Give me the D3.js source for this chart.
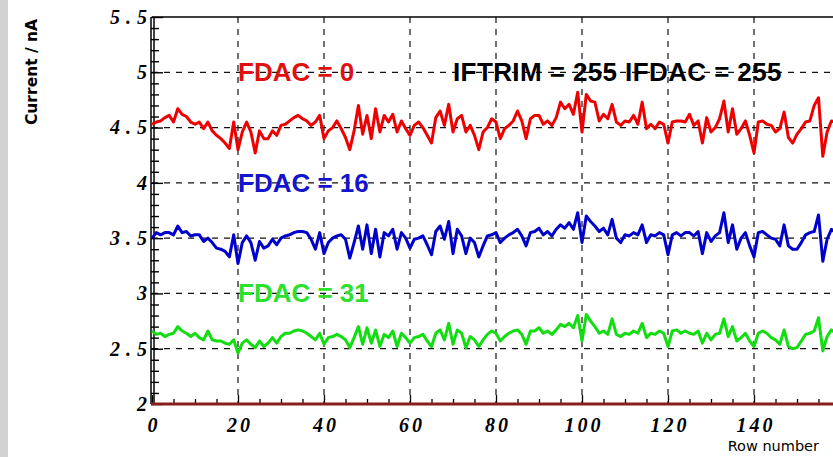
<!DOCTYPE html>
<html>
<head>
<meta charset="utf-8">
<script src="https://cdn.jsdelivr.net/npm/d3@7"></script>
<style>
  body { margin: 0; background: #fff; }
  svg { display: block; }
</style>
</head>
<body>
<div id="chart"></div>
<script>
// current per row (rows 0..159)
const fdac0 = [
  4.53,4.55,4.56,4.59,4.61,4.55,4.67,4.62,4.60,4.55,4.53,4.55,4.49,4.55,4.47,4.43,4.40,4.36,4.31,4.55,
  4.30,4.46,4.55,4.46,4.27,4.47,4.40,4.40,4.47,4.43,4.52,4.53,4.56,4.59,4.61,4.58,4.56,4.52,4.55,4.61,
  4.40,4.47,4.50,4.56,4.49,4.41,4.30,4.47,4.70,4.44,4.61,4.40,4.67,4.46,4.61,4.55,4.62,4.46,4.56,4.49,
  4.43,4.52,4.55,4.50,4.43,4.36,4.59,4.65,4.52,4.71,4.46,4.58,4.61,4.46,4.52,4.43,4.30,4.46,4.50,4.58,
  4.55,4.40,4.49,4.52,4.56,4.65,4.56,4.40,4.58,4.61,4.61,4.53,4.56,4.52,4.59,4.73,4.67,4.71,4.62,4.82,
  4.46,4.80,4.74,4.73,4.56,4.62,4.58,4.71,4.55,4.52,4.56,4.55,4.61,4.53,4.73,4.49,4.53,4.49,4.55,4.53,
  4.36,4.55,4.56,4.56,4.55,4.62,4.52,4.56,4.36,4.59,4.46,4.50,4.58,4.74,4.46,4.67,4.44,4.49,4.56,4.43,
  4.27,4.55,4.56,4.53,4.52,4.46,4.49,4.64,4.41,4.36,4.44,4.49,4.55,4.56,4.70,4.77,4.24,4.46,4.56,4.55
];
const fdac16 = [
  3.50,3.55,3.53,3.55,3.55,3.53,3.61,3.55,3.56,3.52,3.53,3.53,3.47,3.50,3.46,3.41,3.40,3.38,3.33,3.53,
  3.27,3.46,3.52,3.46,3.30,3.47,3.41,3.43,3.49,3.44,3.50,3.52,3.53,3.55,3.56,3.56,3.55,3.49,3.40,3.55,
  3.36,3.46,3.50,3.52,3.53,3.49,3.32,3.46,3.61,3.40,3.62,3.36,3.58,3.33,3.55,3.52,3.58,3.40,3.55,3.50,
  3.41,3.49,3.50,3.52,3.44,3.35,3.56,3.61,3.49,3.65,3.36,3.58,3.52,3.36,3.50,3.46,3.33,3.43,3.52,3.53,
  3.55,3.46,3.50,3.53,3.55,3.58,3.52,3.43,3.55,3.56,3.59,3.53,3.56,3.52,3.58,3.62,3.59,3.64,3.58,3.73,
  3.46,3.70,3.65,3.61,3.56,3.59,3.53,3.67,3.50,3.46,3.53,3.52,3.55,3.53,3.62,3.46,3.53,3.52,3.55,3.53,
  3.35,3.53,3.55,3.52,3.55,3.55,3.52,3.56,3.36,3.55,3.47,3.52,3.55,3.73,3.46,3.62,3.40,3.50,3.55,3.43,
  3.33,3.55,3.56,3.53,3.50,3.49,3.43,3.62,3.43,3.40,3.40,3.46,3.53,3.55,3.56,3.71,3.29,3.49,3.58,3.55
];
const fdac31 = [
  2.66,2.63,2.64,2.61,2.63,2.64,2.70,2.66,2.64,2.61,2.64,2.60,2.58,2.66,2.58,2.57,2.57,2.55,2.54,2.58,
  2.46,2.55,2.58,2.54,2.51,2.57,2.52,2.55,2.60,2.55,2.61,2.64,2.64,2.66,2.67,2.66,2.64,2.61,2.58,2.64,
  2.54,2.60,2.61,2.63,2.61,2.58,2.51,2.60,2.70,2.54,2.69,2.55,2.67,2.52,2.63,2.60,2.66,2.52,2.64,2.60,
  2.55,2.60,2.61,2.63,2.57,2.52,2.64,2.67,2.58,2.73,2.54,2.67,2.64,2.51,2.61,2.58,2.52,2.58,2.63,2.66,
  2.64,2.57,2.61,2.64,2.66,2.67,2.63,2.54,2.66,2.66,2.69,2.64,2.66,2.63,2.67,2.72,2.70,2.73,2.69,2.80,
  2.57,2.81,2.75,2.70,2.64,2.66,2.63,2.77,2.63,2.61,2.64,2.63,2.66,2.64,2.73,2.60,2.64,2.63,2.66,2.64,
  2.52,2.66,2.67,2.64,2.66,2.64,2.63,2.66,2.55,2.64,2.58,2.63,2.64,2.77,2.61,2.70,2.57,2.60,2.64,2.57,
  2.52,2.64,2.66,2.64,2.60,2.58,2.54,2.67,2.52,2.50,2.51,2.57,2.63,2.64,2.66,2.78,2.48,2.61,2.67,2.64
];
const yMajor = [2, 2.5, 3, 3.5, 4, 4.5, 5, 5.5];
const xMajor = [0, 20, 40, 60, 80, 100, 120, 140];
const seriesNames = ['FDAC = 0', 'FDAC = 16', 'FDAC = 31'];
const setting = 'IFTRIM = 255 IFDAC = 255';

const width = 833, height = 457;
const x = d3.scaleLinear().domain([0, 160]).range([152, 840]);
const y = d3.scaleLinear().domain([2, 5.5]).range([404, 17]);

const svg = d3.select('#chart').append('svg')
  .attr('width', width).attr('height', height);

// grey strip on the left edge
svg.append('rect').attr('x', 0).attr('y', 0).attr('width', 8).attr('height', height).attr('fill', '#d2d2d2');

// dashed grid
svg.append('g').selectAll('line')
  .data(yMajor.slice(1, -1))
  .join('line')
    .attr('x1', x(0)).attr('x2', width)
    .attr('y1', d => y(d)).attr('y2', d => y(d))
    .attr('stroke', '#111').attr('stroke-width', 1.2).attr('stroke-dasharray', '6,6');
svg.append('g').selectAll('line')
  .data(xMajor.slice(1))
  .join('line')
    .attr('x1', d => x(d)).attr('x2', d => x(d))
    .attr('y1', y(5.5)).attr('y2', y(2))
    .attr('stroke', '#111').attr('stroke-width', 1.2).attr('stroke-dasharray', '6,6');

// frame top
svg.append('line').attr('x1', x(0)).attr('x2', width).attr('y1', y(5.5)).attr('y2', y(5.5))
  .attr('stroke', '#000').attr('stroke-width', 1.5);

// y axis: inward ticks, double line
const yMinor = d3.range(20, 56).map(v => v / 10).filter(v => !yMajor.includes(v));
svg.append('g').attr('transform', `translate(${x(0) - 1},0)`)
  .call(d3.axisRight(y).tickValues(yMinor).tickSize(8).tickFormat(''))
  .call(g => g.select('.domain').remove())
  .call(g => g.selectAll('line').attr('stroke-width', 1.4));
svg.append('g').attr('transform', `translate(${x(0) - 1},0)`)
  .call(d3.axisRight(y).tickValues(yMajor).tickSize(12).tickFormat(''))
  .call(g => g.select('.domain').remove())
  .call(g => g.selectAll('line').attr('stroke-width', 1.4));
[x(0) - 1, x(0) + 2].forEach(px => {
  svg.append('line').attr('x1', px).attr('x2', px).attr('y1', y(5.5)).attr('y2', y(2))
    .attr('stroke', '#000').attr('stroke-width', 1.5);
});
svg.append('g').attr('transform', `translate(${x(0) - 1},0)`)
  .call(d3.axisLeft(y).tickValues(yMajor).tickSize(0).tickPadding(-2).tickFormat(d3.format('')))
  .call(g => g.select('.domain').remove())
  .call(g => g.selectAll('text')
    .attr('font-family', '"Liberation Serif", serif').attr('font-weight', 'bold')
    .attr('font-style', 'italic').attr('font-size', 20).attr('letter-spacing', 6)
    .attr('fill', '#000'));

// x axis: upward ticks, maroon base line
const xMinor = d3.range(0, 161, 5).filter(v => v % 20 !== 0);
svg.append('g').attr('transform', `translate(0,${y(2)})`)
  .call(d3.axisTop(x).tickValues(xMinor).tickSize(5).tickFormat(''))
  .call(g => g.select('.domain').remove())
  .call(g => g.selectAll('line').attr('stroke-width', 1.3));
svg.append('g').attr('transform', `translate(0,${y(2)})`)
  .call(d3.axisTop(x).tickValues(xMajor).tickSize(9).tickFormat(''))
  .call(g => g.select('.domain').remove())
  .call(g => g.selectAll('line').attr('stroke-width', 1.3));
svg.append('line').attr('x1', x(0) - 1).attr('x2', width).attr('y1', y(2)).attr('y2', y(2))
  .attr('stroke', '#8b1c1c').attr('stroke-width', 3);
svg.append('g').attr('transform', `translate(0,${y(2)})`)
  .call(d3.axisBottom(x).tickValues(xMajor).tickSize(0).tickPadding(14).tickFormat(d3.format('')))
  .call(g => g.select('.domain').remove())
  .call(g => g.selectAll('text')
    .attr('font-family', '"Liberation Serif", serif').attr('font-weight', 'bold')
    .attr('font-style', 'italic').attr('font-size', 20).attr('letter-spacing', 3)
    .attr('dx', 1.5).attr('fill', '#000'));

// axis titles
svg.append('text')
  .attr('transform', `translate(37,72) rotate(-90)`)
  .attr('text-anchor', 'middle')
  .attr('font-family', '"DejaVu Sans", sans-serif').attr('font-weight', 'bold').attr('font-size', 15.5)
  .text('Current / nA');
svg.append('text')
  .attr('x', 819).attr('y', 451).attr('text-anchor', 'end')
  .attr('font-family', '"DejaVu Sans", sans-serif').attr('font-size', 14.5)
  .text('Row number');

// data lines
const colors = ['#ee0000', '#0000cc', '#11dd11'];
const line = d3.line().x((d, i) => x(i)).y(d => y(d));
[fdac0, fdac16, fdac31].forEach((s, k) => {
  svg.append('path').datum(s)
    .attr('d', line)
    .attr('fill', 'none').attr('stroke', colors[k]).attr('stroke-width', 3)
    .attr('stroke-linejoin', 'round');
});

// annotations
const textColors = ['#e01010', '#1414cc', '#2ee02e'];
const levels = [5, 4, 3];
seriesNames.forEach((t, k) => {
  svg.append('text')
    .attr('x', x(20)).attr('y', y(levels[k]) + 9)
    .attr('font-family', '"Liberation Sans", Arial, sans-serif').attr('font-weight', 'bold')
    .attr('font-size', 26).attr('fill', textColors[k])
    .text(t);
});
svg.append('text')
  .attr('x', x(70)).attr('y', y(5) + 9)
  .attr('font-family', '"Liberation Sans", Arial, sans-serif').attr('font-weight', 'bold')
  .attr('font-size', 26).attr('letter-spacing', 0.4).attr('fill', '#000')
  .text(setting);
</script>
</body>
</html>
